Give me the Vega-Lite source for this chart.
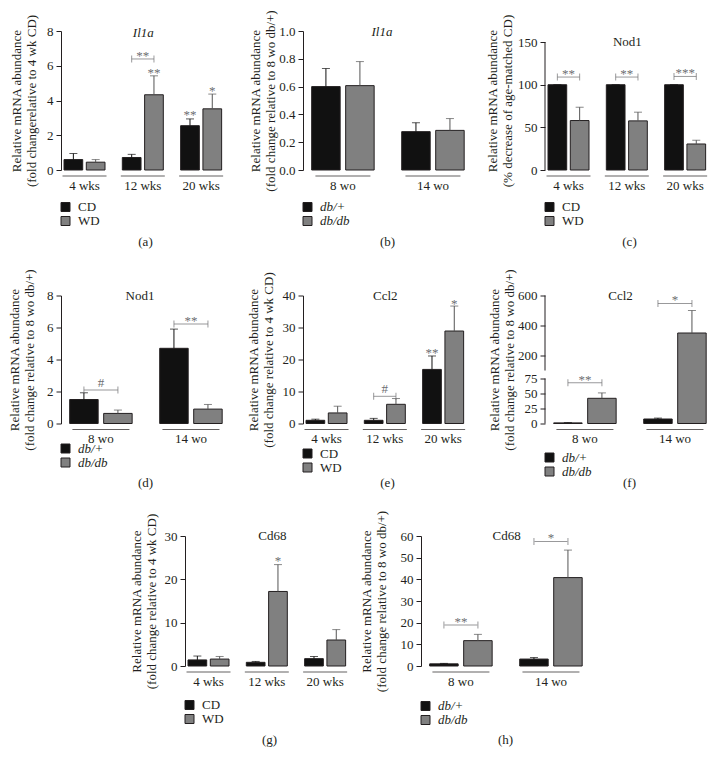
{
"$schema": "https://vega.github.io/schema/vega-lite/v6.json",
"background": "white",
"padding": {"left": 8, "top": 9, "right": 2, "bottom": 2},
"spacing": 20.5,
"center": true,
"resolve": {"scale": {"color": "independent"}, "legend": {"color": "independent"}},
"config": {
  "view": {"stroke": null},
  "font": "Liberation Serif",
  "axis": {"labelFont": "Liberation Serif", "labelFontSize": 13, "labelColor": "#231f20", "titleFont": "Liberation Serif", "titleFontSize": 13, "titleFontWeight": "normal", "titleColor": "#231f20", "domainColor": "#231f20", "tickColor": "#231f20", "grid": false, "labelOverlap": false},
  "axisX": {"domain": false, "ticks": false, "labelAngle": 0, "labelPadding": 9},
  "axisY": {"tickSize": 5, "labelPadding": 3, "titleLineHeight": 15, "labelOverlap": false, "tickCount": 20},
  "legend": {"orient": "none", "symbolType": "square", "symbolSize": 81, "symbolStrokeColor": "#231f20", "symbolStrokeWidth": 1, "labelFont": "Liberation Serif", "labelFontSize": 13, "labelColor": "#231f20", "rowPadding": -4, "labelOffset": 6, "padding": 0},
  "text": {"font": "Liberation Serif", "fontSize": 13, "color": "#231f20"},
  "tick": {"thickness": 1}
},
"datasets": {
  "a": [
    {"g": "4 wks", "c": "CD", "v": 0.6, "e": 0.95},
    {"g": "4 wks", "c": "WD", "v": 0.45, "e": 0.6},
    {"g": "12 wks", "c": "CD", "v": 0.72, "e": 0.9},
    {"g": "12 wks", "c": "WD", "v": 4.33, "e": 5.42},
    {"g": "20 wks", "c": "CD", "v": 2.55, "e": 2.94},
    {"g": "20 wks", "c": "WD", "v": 3.52, "e": 4.37}
  ],
  "a_br": [{"g": "12 wks", "y": 6.39, "lab": "**"}],
  "a_st": [
    {"g": "12 wks", "c": "WD", "y": 5.77, "lab": "**"},
    {"g": "20 wks", "c": "CD", "y": 3.34, "lab": "**"},
    {"g": "20 wks", "c": "WD", "y": 4.72, "lab": "*"}
  ],
  "b": [
    {"g": "8 wo", "c": "db/+", "v": 0.6, "e": 0.73},
    {"g": "8 wo", "c": "db/db", "v": 0.607, "e": 0.78},
    {"g": "14 wo", "c": "db/+", "v": 0.276, "e": 0.34},
    {"g": "14 wo", "c": "db/db", "v": 0.285, "e": 0.37}
  ],
  "c": [
    {"g": "4 wks", "c": "CD", "v": 100, "e": 100},
    {"g": "4 wks", "c": "WD", "v": 58, "e": 73.6},
    {"g": "12 wks", "c": "CD", "v": 100, "e": 100},
    {"g": "12 wks", "c": "WD", "v": 57.6, "e": 67.8},
    {"g": "20 wks", "c": "CD", "v": 100, "e": 100},
    {"g": "20 wks", "c": "WD", "v": 30.5, "e": 34.9}
  ],
  "c_br": [
    {"g": "4 wks", "y": 109, "lab": "**"},
    {"g": "12 wks", "y": 109, "lab": "**"},
    {"g": "20 wks", "y": 109.7, "lab": "***"}
  ],
  "d": [
    {"g": "8 wo", "c": "db/+", "v": 1.5, "e": 1.92},
    {"g": "8 wo", "c": "db/db", "v": 0.63, "e": 0.84},
    {"g": "14 wo", "c": "db/+", "v": 4.7, "e": 5.9},
    {"g": "14 wo", "c": "db/db", "v": 0.9, "e": 1.19}
  ],
  "d_br": [
    {"g": "8 wo", "y": 2.09, "lab": "#"},
    {"g": "14 wo", "y": 6.22, "lab": "**"}
  ],
  "e": [
    {"g": "4 wks", "c": "CD", "v": 1.0, "e": 1.35},
    {"g": "4 wks", "c": "WD", "v": 3.3, "e": 5.4},
    {"g": "12 wks", "c": "CD", "v": 1.0, "e": 1.6},
    {"g": "12 wks", "c": "WD", "v": 6.0, "e": 7.8},
    {"g": "20 wks", "c": "CD", "v": 16.9, "e": 21.1},
    {"g": "20 wks", "c": "WD", "v": 28.9, "e": 36.7}
  ],
  "e_br": [{"g": "12 wks", "y": 8.5, "lab": "#"}],
  "e_st": [
    {"g": "20 wks", "c": "CD", "y": 22.9, "lab": "**"},
    {"g": "20 wks", "c": "WD", "y": 38.4, "lab": "*"}
  ],
  "f": [
    {"g": "8 wo", "c": "db/+", "v": 1, "e": 1.5},
    {"g": "8 wo", "c": "db/db", "v": 42, "e": 51},
    {"g": "14 wo", "c": "db/+", "v": 7.5, "e": 9},
    {"g": "14 wo", "c": "db/db", "v": 350, "e": 500}
  ],
  "f_br": [
    {"g": "8 wo", "y": 68, "lab": "**"},
    {"g": "14 wo", "y": 547, "lab": "*"}
  ],
  "g": [
    {"g": "4 wks", "c": "CD", "v": 1.4, "e": 2.3},
    {"g": "4 wks", "c": "WD", "v": 1.6, "e": 2.2},
    {"g": "12 wks", "c": "CD", "v": 0.85, "e": 1.05},
    {"g": "12 wks", "c": "WD", "v": 17.2, "e": 23.4},
    {"g": "20 wks", "c": "CD", "v": 1.7, "e": 2.2},
    {"g": "20 wks", "c": "WD", "v": 6.0, "e": 8.4}
  ],
  "g_st": [{"g": "12 wks", "c": "WD", "y": 25, "lab": "*"}],
  "h": [
    {"g": "8 wo", "c": "db/+", "v": 1, "e": 1.2},
    {"g": "8 wo", "c": "db/db", "v": 11.7, "e": 14.6},
    {"g": "14 wo", "c": "db/+", "v": 3.2, "e": 3.9},
    {"g": "14 wo", "c": "db/db", "v": 40.8, "e": 53.5}
  ],
  "h_br": [
    {"g": "8 wo", "y": 18.9, "lab": "**"},
    {"g": "14 wo", "y": 57.5, "lab": "*"}
  ]
},
"vconcat": [
{
  "hconcat": [
  {
    "width": 168, "height": 139,
    "resolve": {"scale": {"x": "independent", "xOffset": "independent"}},
    "layer": [
      {
        "data": {"name": "a"},
        "layer": [
          {"mark": {"type": "bar", "stroke": "#231f20", "strokeWidth": 1},
           "encoding": {
             "x": {"field": "g", "type": "nominal", "scale": {"domain": ["4 wks", "12 wks", "20 wks"], "paddingInner": 0.297, "paddingOuter": 0.089, "align": 0.29}, "axis": {"title": "(a)", "titlePadding": 43}},
             "xOffset": {"field": "c", "type": "nominal", "scale": {"domain": ["CD", "WD"], "paddingInner": 0.161, "paddingOuter": 0}},
             "y": {"field": "v", "type": "quantitative", "scale": {"domain": [0, 8], "nice": false}, "axis": {"values": [0, 2, 4, 6, 8], "format": "d", "tickCount": 20, "labelOverlap": false, "title": ["Relative mRNA abundance", "(fold changerelative to 4 wk CD)"], "titlePadding": 8}},
             "color": {"field": "c", "type": "nominal", "scale": {"domain": ["CD", "WD"], "range": ["#111111", "#808080"]}, "legend": {"title": null, "legendX": -2, "legendY": 169.5}}
           }},
          {"mark": {"type": "rule", "strokeWidth": 1}, "encoding": {"x": {"field": "g", "type": "nominal"}, "xOffset": {"field": "c", "type": "nominal"}, "y": {"field": "v", "type": "quantitative"}, "y2": {"field": "e"}, "color": {"condition": {"test": "datum.c == 'CD' || datum.c == 'db/+'", "value": "#111111"}, "value": "#555555"}}},
          {"mark": {"type": "tick", "size": 8, "thickness": 1}, "encoding": {"x": {"field": "g", "type": "nominal"}, "xOffset": {"field": "c", "type": "nominal"}, "y": {"field": "e", "type": "quantitative"}, "color": {"condition": {"test": "datum.c == 'CD' || datum.c == 'db/+'", "value": "#111111"}, "value": "#555555"}}},
          {"transform": [{"filter": "datum.c == 'CD' || datum.c == 'db/+'"}], "mark": {"type": "tick", "size": 44, "thickness": 1, "color": "#231f20"}, "encoding": {"x": {"field": "g", "type": "nominal"}, "y": {"datum": -0.345, "type": "quantitative"}}},
          {"data": {"name": "a_br"}, "mark": {"type": "tick", "size": 22.3, "thickness": 1, "color": "#6d6e71"}, "encoding": {"x": {"field": "g", "type": "nominal"}, "y": {"field": "y", "type": "quantitative"}}},
          {"data": {"name": "a_br"}, "mark": {"type": "tick", "orient": "vertical", "size": 7, "thickness": 1, "color": "#6d6e71"}, "encoding": {"x": {"field": "g", "type": "nominal"}, "xOffset": {"datum": "CD", "type": "nominal"}, "y": {"field": "y", "type": "quantitative"}}},
          {"data": {"name": "a_br"}, "mark": {"type": "tick", "orient": "vertical", "size": 7, "thickness": 1, "color": "#6d6e71"}, "encoding": {"x": {"field": "g", "type": "nominal"}, "xOffset": {"datum": "WD", "type": "nominal"}, "y": {"field": "y", "type": "quantitative"}}},
          {"data": {"name": "a_br"}, "mark": {"type": "text", "baseline": "alphabetic", "dy": 1, "fill": "#6d6e71"}, "encoding": {"x": {"field": "g", "type": "nominal"}, "y": {"field": "y", "type": "quantitative"}, "text": {"field": "lab"}}},
          {"data": {"name": "a_st"}, "mark": {"type": "text", "baseline": "alphabetic", "dy": 7, "fill": "#6d6e71"}, "encoding": {"x": {"field": "g", "type": "nominal"}, "xOffset": {"field": "c", "type": "nominal"}, "y": {"field": "y", "type": "quantitative"}, "text": {"field": "lab"}}}
        ]
      },
      {
        "data": {"values": [{"t": "Il1a"}]},
        "mark": {"type": "text", "fontStyle": "italic", "baseline": "middle", "dy": 2},
        "encoding": {"x": {"datum": 0.49, "type": "quantitative", "scale": {"domain": [0, 1]}, "axis": null}, "y": {"datum": 8, "type": "quantitative"}, "text": {"field": "t"}}
      }
    ]
  },
  {
    "width": 168, "height": 139,
    "resolve": {"scale": {"x": "independent", "xOffset": "independent"}},
    "layer": [
      {
        "data": {"name": "b"},
        "layer": [
          {"mark": {"type": "bar", "stroke": "#231f20", "strokeWidth": 1},
           "encoding": {
             "x": {"field": "g", "type": "nominal", "scale": {"domain": ["8 wo", "14 wo"], "paddingInner": 0.306, "paddingOuter": 0.086, "align": 0.56}, "axis": {"title": "(b)", "titlePadding": 43}},
             "xOffset": {"field": "c", "type": "nominal", "scale": {"domain": ["db/+", "db/db"], "paddingInner": 0.162, "paddingOuter": 0}},
             "y": {"field": "v", "type": "quantitative", "scale": {"domain": [0, 1], "nice": false}, "axis": {"values": [0, 0.2, 0.4, 0.6, 0.8, 1.0], "tickCount": 20, "labelOverlap": false, "format": ".1f", "title": ["Relative mRNA abundance", "(fold change relative to 8 wo db/+)"], "titlePadding": 1}},
             "color": {"field": "c", "type": "nominal", "scale": {"domain": ["db/+", "db/db"], "range": ["#111111", "#808080"]}, "legend": {"title": null, "legendX": -2, "legendY": 169.5, "labelFontStyle": "italic"}}
           }},
          {"mark": {"type": "rule", "strokeWidth": 1}, "encoding": {"x": {"field": "g", "type": "nominal"}, "xOffset": {"field": "c", "type": "nominal"}, "y": {"field": "v", "type": "quantitative"}, "y2": {"field": "e"}, "color": {"condition": {"test": "datum.c == 'CD' || datum.c == 'db/+'", "value": "#111111"}, "value": "#555555"}}},
          {"mark": {"type": "tick", "size": 8, "thickness": 1}, "encoding": {"x": {"field": "g", "type": "nominal"}, "xOffset": {"field": "c", "type": "nominal"}, "y": {"field": "e", "type": "quantitative"}, "color": {"condition": {"test": "datum.c == 'CD' || datum.c == 'db/+'", "value": "#111111"}, "value": "#555555"}}},
          {"transform": [{"filter": "datum.c == 'CD' || datum.c == 'db/+'"}], "mark": {"type": "tick", "size": 55, "thickness": 1, "color": "#231f20"}, "encoding": {"x": {"field": "g", "type": "nominal"}, "y": {"datum": -0.043, "type": "quantitative"}}}
        ]
      },
      {
        "data": {"values": [{"t": "Il1a"}]},
        "mark": {"type": "text", "fontStyle": "italic", "baseline": "middle", "dy": 1},
        "encoding": {"x": {"datum": 0.47, "type": "quantitative", "scale": {"domain": [0, 1]}, "axis": null}, "y": {"datum": 1, "type": "quantitative"}, "text": {"field": "t"}}
      }
    ]
  },
  {
    "width": 168, "height": 139,
    "resolve": {"scale": {"x": "independent", "xOffset": "independent"}},
    "layer": [
      {
        "data": {"name": "c"},
        "layer": [
          {"mark": {"type": "bar", "stroke": "#231f20", "strokeWidth": 1},
           "encoding": {
             "x": {"field": "g", "type": "nominal", "scale": {"domain": ["4 wks", "12 wks", "20 wks"], "paddingInner": 0.297, "paddingOuter": 0.089, "align": 0.29}, "axis": {"title": "(c)", "titlePadding": 43}},
             "xOffset": {"field": "c", "type": "nominal", "scale": {"domain": ["CD", "WD"], "paddingInner": 0.161, "paddingOuter": 0}},
             "y": {"field": "v", "type": "quantitative", "scale": {"domain": [0, 163], "nice": false}, "axis": {"values": [0, 50, 100, 150], "format": "d", "tickCount": 20, "labelOverlap": false, "domain": false, "title": ["Relative mRNA abundance", "(% decrease of age-matched CD)"], "titlePadding": 3}},
             "color": {"field": "c", "type": "nominal", "scale": {"domain": ["CD", "WD"], "range": ["#111111", "#808080"]}, "legend": {"title": null, "legendX": -2, "legendY": 169.5}}
           }},
          {"mark": {"type": "rule", "strokeWidth": 1}, "encoding": {"x": {"field": "g", "type": "nominal"}, "xOffset": {"field": "c", "type": "nominal"}, "y": {"field": "v", "type": "quantitative"}, "y2": {"field": "e"}, "color": {"condition": {"test": "datum.c == 'CD' || datum.c == 'db/+'", "value": "#111111"}, "value": "#555555"}}},
          {"mark": {"type": "tick", "size": 8, "thickness": 1}, "encoding": {"x": {"field": "g", "type": "nominal"}, "xOffset": {"field": "c", "type": "nominal"}, "y": {"field": "e", "type": "quantitative"}, "color": {"condition": {"test": "datum.c == 'CD' || datum.c == 'db/+'", "value": "#111111"}, "value": "#555555"}}},
          {"transform": [{"filter": "datum.c == 'CD' || datum.c == 'db/+'"}], "mark": {"type": "tick", "size": 44, "thickness": 1, "color": "#231f20"}, "encoding": {"x": {"field": "g", "type": "nominal"}, "y": {"datum": -7, "type": "quantitative"}}},
          {"data": {"name": "c_br"}, "mark": {"type": "tick", "size": 22.3, "thickness": 1, "color": "#6d6e71"}, "encoding": {"x": {"field": "g", "type": "nominal"}, "y": {"field": "y", "type": "quantitative"}}},
          {"data": {"name": "c_br"}, "mark": {"type": "tick", "orient": "vertical", "size": 7, "thickness": 1, "color": "#6d6e71"}, "encoding": {"x": {"field": "g", "type": "nominal"}, "xOffset": {"datum": "CD", "type": "nominal"}, "y": {"field": "y", "type": "quantitative"}}},
          {"data": {"name": "c_br"}, "mark": {"type": "tick", "orient": "vertical", "size": 7, "thickness": 1, "color": "#6d6e71"}, "encoding": {"x": {"field": "g", "type": "nominal"}, "xOffset": {"datum": "WD", "type": "nominal"}, "y": {"field": "y", "type": "quantitative"}}},
          {"data": {"name": "c_br"}, "mark": {"type": "text", "baseline": "alphabetic", "dy": 1, "fill": "#6d6e71"}, "encoding": {"x": {"field": "g", "type": "nominal"}, "y": {"field": "y", "type": "quantitative"}, "text": {"field": "lab"}}}
        ]
      },
      {
        "data": {"values": [{"t": "Nod1"}]},
        "layer": [
          {"mark": {"type": "text", "baseline": "middle", "dy": 0},
           "encoding": {"x": {"datum": 0.49, "type": "quantitative", "scale": {"domain": [0, 1]}, "axis": null}, "y": {"datum": 150, "type": "quantitative"}, "text": {"field": "t"}}},
          {"mark": {"type": "rule", "color": "#231f20", "strokeWidth": 1},
           "encoding": {"x": {"datum": 0, "type": "quantitative", "scale": {"domain": [0, 1]}, "axis": null}, "y": {"datum": 0, "type": "quantitative"}, "y2": {"datum": 150}}}
        ]
      }
    ]
  }
  ],
  "spacing": 74, "bounds": "flush",
  "resolve": {"scale": {"color": "independent"}, "legend": {"color": "independent"}}
},
{
  "hconcat": [
  {
    "width": 168, "height": 128,
    "resolve": {"scale": {"x": "independent", "xOffset": "independent"}},
    "layer": [
      {
        "data": {"name": "d"},
        "layer": [
          {"mark": {"type": "bar", "stroke": "#231f20", "strokeWidth": 1},
           "encoding": {
             "x": {"field": "g", "type": "nominal", "scale": {"domain": ["8 wo", "14 wo"], "paddingInner": 0.306, "paddingOuter": 0.086, "align": 0.56}, "axis": {"title": "(d)", "titlePadding": 31}},
             "xOffset": {"field": "c", "type": "nominal", "scale": {"domain": ["db/+", "db/db"], "paddingInner": 0.162, "paddingOuter": 0}},
             "y": {"field": "v", "type": "quantitative", "scale": {"domain": [0, 8], "nice": false}, "axis": {"values": [0, 2, 4, 6, 8], "format": "d", "tickCount": 20, "labelOverlap": false, "title": ["Relative mRNA abundance", "(fold change relative to 8 wo db/+)"], "titlePadding": 10}},
             "color": {"field": "c", "type": "nominal", "scale": {"domain": ["db/+", "db/db"], "range": ["#111111", "#808080"]}, "legend": {"title": null, "legendX": -2, "legendY": 146.5, "labelFontStyle": "italic"}}
           }},
          {"mark": {"type": "rule", "strokeWidth": 1}, "encoding": {"x": {"field": "g", "type": "nominal"}, "xOffset": {"field": "c", "type": "nominal"}, "y": {"field": "v", "type": "quantitative"}, "y2": {"field": "e"}, "color": {"condition": {"test": "datum.c == 'CD' || datum.c == 'db/+'", "value": "#111111"}, "value": "#555555"}}},
          {"mark": {"type": "tick", "size": 8, "thickness": 1}, "encoding": {"x": {"field": "g", "type": "nominal"}, "xOffset": {"field": "c", "type": "nominal"}, "y": {"field": "e", "type": "quantitative"}, "color": {"condition": {"test": "datum.c == 'CD' || datum.c == 'db/+'", "value": "#111111"}, "value": "#555555"}}},
          {"transform": [{"filter": "datum.c == 'CD' || datum.c == 'db/+'"}], "mark": {"type": "tick", "size": 57, "thickness": 1, "color": "#231f20"}, "encoding": {"x": {"field": "g", "type": "nominal"}, "y": {"datum": -0.375, "type": "quantitative"}}},
          {"data": {"name": "d_br"}, "mark": {"type": "tick", "size": 34, "thickness": 1, "color": "#6d6e71"}, "encoding": {"x": {"field": "g", "type": "nominal"}, "y": {"field": "y", "type": "quantitative"}}},
          {"data": {"name": "d_br"}, "mark": {"type": "tick", "orient": "vertical", "size": 7, "thickness": 1, "color": "#6d6e71"}, "encoding": {"x": {"field": "g", "type": "nominal"}, "xOffset": {"datum": "db/+", "type": "nominal"}, "y": {"field": "y", "type": "quantitative"}}},
          {"data": {"name": "d_br"}, "mark": {"type": "tick", "orient": "vertical", "size": 7, "thickness": 1, "color": "#6d6e71"}, "encoding": {"x": {"field": "g", "type": "nominal"}, "xOffset": {"datum": "db/db", "type": "nominal"}, "y": {"field": "y", "type": "quantitative"}}},
          {"data": {"name": "d_br"}, "transform": [{"filter": "datum.lab != '#'"}], "mark": {"type": "text", "baseline": "alphabetic", "dy": 1, "fill": "#6d6e71"}, "encoding": {"x": {"field": "g", "type": "nominal"}, "y": {"field": "y", "type": "quantitative"}, "text": {"field": "lab"}}},
          {"data": {"name": "d_br"}, "transform": [{"filter": "datum.lab == '#'"}], "mark": {"type": "text", "baseline": "alphabetic", "dy": -3, "fill": "#6d6e71"}, "encoding": {"x": {"field": "g", "type": "nominal"}, "y": {"field": "y", "type": "quantitative"}, "text": {"field": "lab"}}}
        ]
      },
      {
        "data": {"values": [{"t": "Nod1"}]},
        "mark": {"type": "text", "baseline": "middle", "dy": 0},
        "encoding": {"x": {"datum": 0.47, "type": "quantitative", "scale": {"domain": [0, 1]}, "axis": null}, "y": {"datum": 8, "type": "quantitative"}, "text": {"field": "t"}}
      }
    ]
  },
  {
    "width": 168, "height": 128,
    "resolve": {"scale": {"x": "independent", "xOffset": "independent"}},
    "layer": [
      {
        "data": {"name": "e"},
        "layer": [
          {"mark": {"type": "bar", "stroke": "#231f20", "strokeWidth": 1},
           "encoding": {
             "x": {"field": "g", "type": "nominal", "scale": {"domain": ["4 wks", "12 wks", "20 wks"], "paddingInner": 0.297, "paddingOuter": 0.089, "align": 0.29}, "axis": {"title": "(e)", "titlePadding": 31}},
             "xOffset": {"field": "c", "type": "nominal", "scale": {"domain": ["CD", "WD"], "paddingInner": 0.161, "paddingOuter": 0}},
             "y": {"field": "v", "type": "quantitative", "scale": {"domain": [0, 40], "nice": false}, "axis": {"values": [0, 10, 20, 30, 40], "format": "d", "tickCount": 20, "labelOverlap": false, "title": ["Relative mRNA abundance", "(fold change relative to 4 wk CD)"], "titlePadding": 7}},
             "color": {"field": "c", "type": "nominal", "scale": {"domain": ["CD", "WD"], "range": ["#111111", "#808080"]}, "legend": {"title": null, "legendX": -2, "legendY": 151.5}}
           }},
          {"mark": {"type": "rule", "strokeWidth": 1}, "encoding": {"x": {"field": "g", "type": "nominal"}, "xOffset": {"field": "c", "type": "nominal"}, "y": {"field": "v", "type": "quantitative"}, "y2": {"field": "e"}, "color": {"condition": {"test": "datum.c == 'CD' || datum.c == 'db/+'", "value": "#111111"}, "value": "#555555"}}},
          {"mark": {"type": "tick", "size": 8, "thickness": 1}, "encoding": {"x": {"field": "g", "type": "nominal"}, "xOffset": {"field": "c", "type": "nominal"}, "y": {"field": "e", "type": "quantitative"}, "color": {"condition": {"test": "datum.c == 'CD' || datum.c == 'db/+'", "value": "#111111"}, "value": "#555555"}}},
          {"transform": [{"filter": "datum.c == 'CD' || datum.c == 'db/+'"}], "mark": {"type": "tick", "size": 44, "thickness": 1, "color": "#231f20"}, "encoding": {"x": {"field": "g", "type": "nominal"}, "y": {"datum": -1.875, "type": "quantitative"}}},
          {"data": {"name": "e_br"}, "mark": {"type": "tick", "size": 22.3, "thickness": 1, "color": "#6d6e71"}, "encoding": {"x": {"field": "g", "type": "nominal"}, "y": {"field": "y", "type": "quantitative"}}},
          {"data": {"name": "e_br"}, "mark": {"type": "tick", "orient": "vertical", "size": 7, "thickness": 1, "color": "#6d6e71"}, "encoding": {"x": {"field": "g", "type": "nominal"}, "xOffset": {"datum": "CD", "type": "nominal"}, "y": {"field": "y", "type": "quantitative"}}},
          {"data": {"name": "e_br"}, "mark": {"type": "tick", "orient": "vertical", "size": 7, "thickness": 1, "color": "#6d6e71"}, "encoding": {"x": {"field": "g", "type": "nominal"}, "xOffset": {"datum": "WD", "type": "nominal"}, "y": {"field": "y", "type": "quantitative"}}},
          {"data": {"name": "e_br"}, "mark": {"type": "text", "baseline": "alphabetic", "dy": -3, "fill": "#6d6e71"}, "encoding": {"x": {"field": "g", "type": "nominal"}, "y": {"field": "y", "type": "quantitative"}, "text": {"field": "lab"}}},
          {"data": {"name": "e_st"}, "mark": {"type": "text", "baseline": "alphabetic", "dy": 7, "fill": "#6d6e71"}, "encoding": {"x": {"field": "g", "type": "nominal"}, "xOffset": {"field": "c", "type": "nominal"}, "y": {"field": "y", "type": "quantitative"}, "text": {"field": "lab"}}}
        ]
      },
      {
        "data": {"values": [{"t": "Ccl2"}]},
        "mark": {"type": "text", "baseline": "middle", "dy": 0},
        "encoding": {"x": {"datum": 0.49, "type": "quantitative", "scale": {"domain": [0, 1]}, "axis": null}, "y": {"datum": 40, "type": "quantitative"}, "text": {"field": "t"}}
      }
    ]
  },
  {
    "width": 168, "height": 128,
    "resolve": {"scale": {"x": "independent", "xOffset": "independent"}},
    "layer": [
      {
        "data": {"name": "f"},
        "layer": [
          {"mark": {"type": "bar", "stroke": "#231f20", "strokeWidth": 1},
           "encoding": {
             "x": {"field": "g", "type": "nominal", "scale": {"domain": ["8 wo", "14 wo"], "paddingInner": 0.306, "paddingOuter": 0.086, "align": 0.56}, "axis": {"title": "(f)", "titlePadding": 31}},
             "xOffset": {"field": "c", "type": "nominal", "scale": {"domain": ["db/+", "db/db"], "paddingInner": 0.162, "paddingOuter": 0}},
             "y": {"field": "v", "type": "quantitative", "scale": {"domain": [0, 75, 100, 600], "range": [128, 83, 75, 0], "nice": false, "zero": false}, "axis": {"values": [0, 25, 50, 75, 200, 400, 600], "format": "d", "tickCount": 20, "labelOverlap": false, "domain": false, "title": ["Relative mRNA abundance", "(fold change relative to 8 wo db/+)"], "titlePadding": 1}},
             "color": {"field": "c", "type": "nominal", "scale": {"domain": ["db/+", "db/db"], "range": ["#111111", "#808080"]}, "legend": {"title": null, "legendX": -2, "legendY": 155.5, "labelFontStyle": "italic"}}
           }},
          {"mark": {"type": "rule", "strokeWidth": 1}, "encoding": {"x": {"field": "g", "type": "nominal"}, "xOffset": {"field": "c", "type": "nominal"}, "y": {"field": "v", "type": "quantitative"}, "y2": {"field": "e"}, "color": {"condition": {"test": "datum.c == 'CD' || datum.c == 'db/+'", "value": "#111111"}, "value": "#555555"}}},
          {"mark": {"type": "tick", "size": 8, "thickness": 1}, "encoding": {"x": {"field": "g", "type": "nominal"}, "xOffset": {"field": "c", "type": "nominal"}, "y": {"field": "e", "type": "quantitative"}, "color": {"condition": {"test": "datum.c == 'CD' || datum.c == 'db/+'", "value": "#111111"}, "value": "#555555"}}},
          {"transform": [{"filter": "datum.c == 'CD' || datum.c == 'db/+'"}], "mark": {"type": "tick", "size": 57, "thickness": 1, "color": "#231f20"}, "encoding": {"x": {"field": "g", "type": "nominal"}, "y": {"datum": -10, "type": "quantitative"}}},
          {"data": {"name": "f_br"}, "mark": {"type": "tick", "size": 34, "thickness": 1, "color": "#6d6e71"}, "encoding": {"x": {"field": "g", "type": "nominal"}, "y": {"field": "y", "type": "quantitative"}}},
          {"data": {"name": "f_br"}, "mark": {"type": "tick", "orient": "vertical", "size": 7, "thickness": 1, "color": "#6d6e71"}, "encoding": {"x": {"field": "g", "type": "nominal"}, "xOffset": {"datum": "db/+", "type": "nominal"}, "y": {"field": "y", "type": "quantitative"}}},
          {"data": {"name": "f_br"}, "mark": {"type": "tick", "orient": "vertical", "size": 7, "thickness": 1, "color": "#6d6e71"}, "encoding": {"x": {"field": "g", "type": "nominal"}, "xOffset": {"datum": "db/db", "type": "nominal"}, "y": {"field": "y", "type": "quantitative"}}},
          {"data": {"name": "f_br"}, "mark": {"type": "text", "baseline": "alphabetic", "dy": 1, "fill": "#6d6e71"}, "encoding": {"x": {"field": "g", "type": "nominal"}, "y": {"field": "y", "type": "quantitative"}, "text": {"field": "lab"}}}
        ]
      },
      {
        "layer": [
          {"data": {"values": [{"t": "Ccl2"}]},
           "mark": {"type": "text", "baseline": "middle", "dy": 0},
           "encoding": {"x": {"datum": 0.45, "type": "quantitative", "scale": {"domain": [0, 1]}, "axis": null}, "y": {"datum": 600, "type": "quantitative"}, "text": {"field": "t"}}},
          {"data": {"values": [{"y0": 0, "y1": 75}, {"y0": 100, "y1": 600}]},
           "mark": {"type": "rule", "color": "#231f20", "strokeWidth": 1},
           "encoding": {"x": {"datum": 0, "type": "quantitative", "scale": {"domain": [0, 1]}, "axis": null}, "y": {"field": "y0", "type": "quantitative"}, "y2": {"field": "y1"}}}
        ]
      }
    ]
  }
  ],
  "spacing": 74, "bounds": "flush",
  "resolve": {"scale": {"color": "independent"}, "legend": {"color": "independent"}}
},
{
  "hconcat": [
  {
    "width": 168, "height": 130,
    "resolve": {"scale": {"x": "independent", "xOffset": "independent"}},
    "layer": [
      {
        "data": {"name": "g"},
        "layer": [
          {"mark": {"type": "bar", "stroke": "#231f20", "strokeWidth": 1},
           "encoding": {
             "x": {"field": "g", "type": "nominal", "scale": {"domain": ["4 wks", "12 wks", "20 wks"], "paddingInner": 0.297, "paddingOuter": 0.089, "align": 0.29}, "axis": {"title": "(g)", "titlePadding": 45}},
             "xOffset": {"field": "c", "type": "nominal", "scale": {"domain": ["CD", "WD"], "paddingInner": 0.161, "paddingOuter": 0}},
             "y": {"field": "v", "type": "quantitative", "scale": {"domain": [0, 30], "nice": false}, "axis": {"values": [0, 10, 20, 30], "format": "d", "tickCount": 20, "labelOverlap": false, "title": ["Relative mRNA abundance", "(fold change relative to 4 wk CD)"], "titlePadding": 6}},
             "color": {"field": "c", "type": "nominal", "scale": {"domain": ["CD", "WD"], "range": ["#111111", "#808080"]}, "legend": {"title": null, "legendX": -2, "legendY": 162.5}}
           }},
          {"mark": {"type": "rule", "strokeWidth": 1}, "encoding": {"x": {"field": "g", "type": "nominal"}, "xOffset": {"field": "c", "type": "nominal"}, "y": {"field": "v", "type": "quantitative"}, "y2": {"field": "e"}, "color": {"condition": {"test": "datum.c == 'CD' || datum.c == 'db/+'", "value": "#111111"}, "value": "#555555"}}},
          {"mark": {"type": "tick", "size": 8, "thickness": 1}, "encoding": {"x": {"field": "g", "type": "nominal"}, "xOffset": {"field": "c", "type": "nominal"}, "y": {"field": "e", "type": "quantitative"}, "color": {"condition": {"test": "datum.c == 'CD' || datum.c == 'db/+'", "value": "#111111"}, "value": "#555555"}}},
          {"transform": [{"filter": "datum.c == 'CD' || datum.c == 'db/+'"}], "mark": {"type": "tick", "size": 44, "thickness": 1, "color": "#231f20"}, "encoding": {"x": {"field": "g", "type": "nominal"}, "y": {"datum": -1.385, "type": "quantitative"}}},
          {"data": {"name": "g_st"}, "mark": {"type": "text", "baseline": "alphabetic", "dy": 7, "fill": "#6d6e71"}, "encoding": {"x": {"field": "g", "type": "nominal"}, "xOffset": {"field": "c", "type": "nominal"}, "y": {"field": "y", "type": "quantitative"}, "text": {"field": "lab"}}}
        ]
      },
      {
        "data": {"values": [{"t": "Cd68"}]},
        "mark": {"type": "text", "baseline": "middle", "dy": 0},
        "encoding": {"x": {"datum": 0.52, "type": "quantitative", "scale": {"domain": [0, 1]}, "axis": null}, "y": {"datum": 30, "type": "quantitative"}, "text": {"field": "t"}}
      }
    ]
  },
  {
    "width": 168, "height": 130,
    "resolve": {"scale": {"x": "independent", "xOffset": "independent"}},
    "layer": [
      {
        "data": {"name": "h"},
        "layer": [
          {"mark": {"type": "bar", "stroke": "#231f20", "strokeWidth": 1},
           "encoding": {
             "x": {"field": "g", "type": "nominal", "scale": {"domain": ["8 wo", "14 wo"], "paddingInner": 0.306, "paddingOuter": 0.086, "align": 0.56}, "axis": {"title": "(h)", "titlePadding": 45}},
             "xOffset": {"field": "c", "type": "nominal", "scale": {"domain": ["db/+", "db/db"], "paddingInner": 0.162, "paddingOuter": 0}},
             "y": {"field": "v", "type": "quantitative", "scale": {"domain": [0, 60], "nice": false}, "axis": {"values": [0, 10, 20, 30, 40, 50, 60], "format": "d", "tickCount": 20, "labelOverlap": false, "title": ["Relative mRNA abundance", "(fold change relative to 8 wo db/+)"], "titlePadding": 12}},
             "color": {"field": "c", "type": "nominal", "scale": {"domain": ["db/+", "db/db"], "range": ["#111111", "#808080"]}, "legend": {"title": null, "legendX": -2, "legendY": 163.5, "labelFontStyle": "italic"}}
           }},
          {"mark": {"type": "rule", "strokeWidth": 1}, "encoding": {"x": {"field": "g", "type": "nominal"}, "xOffset": {"field": "c", "type": "nominal"}, "y": {"field": "v", "type": "quantitative"}, "y2": {"field": "e"}, "color": {"condition": {"test": "datum.c == 'CD' || datum.c == 'db/+'", "value": "#111111"}, "value": "#555555"}}},
          {"mark": {"type": "tick", "size": 8, "thickness": 1}, "encoding": {"x": {"field": "g", "type": "nominal"}, "xOffset": {"field": "c", "type": "nominal"}, "y": {"field": "e", "type": "quantitative"}, "color": {"condition": {"test": "datum.c == 'CD' || datum.c == 'db/+'", "value": "#111111"}, "value": "#555555"}}},
          {"transform": [{"filter": "datum.c == 'CD' || datum.c == 'db/+'"}], "mark": {"type": "tick", "size": 57, "thickness": 1, "color": "#231f20"}, "encoding": {"x": {"field": "g", "type": "nominal"}, "y": {"datum": -2.77, "type": "quantitative"}}},
          {"data": {"name": "h_br"}, "mark": {"type": "tick", "size": 33, "thickness": 1, "color": "#6d6e71"}, "encoding": {"x": {"field": "g", "type": "nominal"}, "y": {"field": "y", "type": "quantitative"}}},
          {"data": {"name": "h_br"}, "mark": {"type": "tick", "orient": "vertical", "size": 7, "thickness": 1, "color": "#6d6e71"}, "encoding": {"x": {"field": "g", "type": "nominal"}, "xOffset": {"datum": "db/+", "type": "nominal"}, "y": {"field": "y", "type": "quantitative"}}},
          {"data": {"name": "h_br"}, "mark": {"type": "tick", "orient": "vertical", "size": 7, "thickness": 1, "color": "#6d6e71"}, "encoding": {"x": {"field": "g", "type": "nominal"}, "xOffset": {"datum": "db/db", "type": "nominal"}, "y": {"field": "y", "type": "quantitative"}}},
          {"data": {"name": "h_br"}, "mark": {"type": "text", "baseline": "alphabetic", "dy": 1, "fill": "#6d6e71"}, "encoding": {"x": {"field": "g", "type": "nominal"}, "y": {"field": "y", "type": "quantitative"}, "text": {"field": "lab"}}}
        ]
      },
      {
        "data": {"values": [{"t": "Cd68"}]},
        "mark": {"type": "text", "baseline": "middle", "dy": 0},
        "encoding": {"x": {"datum": 0.51, "type": "quantitative", "scale": {"domain": [0, 1]}, "axis": null}, "y": {"datum": 60, "type": "quantitative"}, "text": {"field": "t"}}
      }
    ]
  }
  ],
  "spacing": 68, "bounds": "flush",
  "resolve": {"scale": {"color": "independent"}, "legend": {"color": "independent"}}
}
]
}
